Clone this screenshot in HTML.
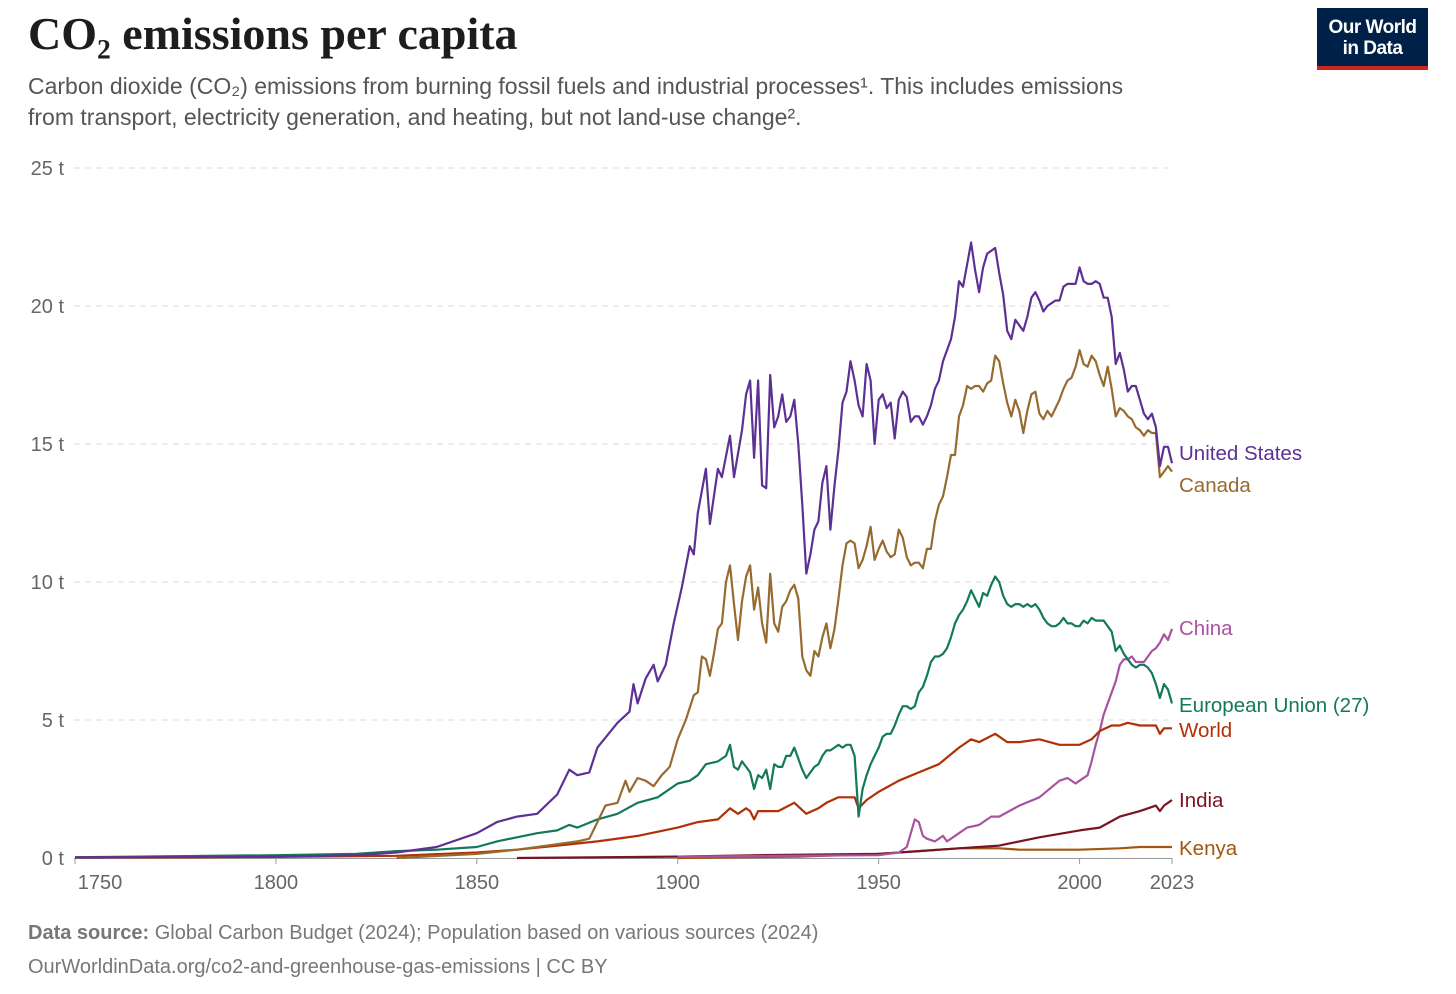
<!DOCTYPE html>
<html><head><meta charset="utf-8">
<style>
body{margin:0;background:#fff;width:1456px;height:994px;overflow:hidden;font-family:"Liberation Sans",sans-serif}
.title{position:absolute;left:28px;top:7px;font-family:"Liberation Serif",serif;font-size:46px;font-weight:bold;color:#1d1d1d}
.sub{position:absolute;left:28px;top:71px;font-size:23px;line-height:31px;color:#555;width:1300px;white-space:nowrap}
.logo{position:absolute;left:1317px;top:8px;width:111px;height:62px;background:#002147;color:#fff;font-size:19px;line-height:21px;text-align:center;box-sizing:border-box;padding-top:9px;border-bottom:4px solid #ce261e;font-weight:bold;letter-spacing:-0.5px}
.foot{position:absolute;left:28px;font-size:20px;color:#777}
</style></head><body>
<div class="title">CO₂ emissions per capita</div>
<div class="sub">Carbon dioxide (CO₂) emissions from burning fossil fuels and industrial processes¹. This includes emissions<br>from transport, electricity generation, and heating, but not land-use change².</div>
<div class="logo">Our World<br>in Data</div>
<svg id="chart" width="1456" height="994" style="position:absolute;left:0;top:0"></svg>
<div class="foot" style="top:922px"><b>Data source:</b> Global Carbon Budget (2024); Population based on various sources (2024)</div>
<div class="foot" style="top:956px">OurWorldinData.org/co2-and-greenhouse-gas-emissions | CC BY</div>
<script>
const yTicks=[0,5,10,15,20,25];
const xTicks=[1750,1800,1850,1900,1950,2000,2023];
const usYears=[1750,1800,1820,1830,1840,1850,1855,1860,1865,1870,1873,1875,1878,1880,1885,1888,1889,1890,1892,1894,1895,1897,1899,1901,1903,1904,1905,1907,1908,1910,1911,1913,1914,1916,1917,1918,1919,1920,1921,1922,1923,1924,1925,1926,1927,1928,1929,1930,1931,1932,1933,1934,1935,1936,1937,1938,1939,1940,1941,1942,1943,1944,1945,1946,1947,1948,1949,1950,1951,1952,1953,1954,1955,1956,1957,1958,1959,1960,1961,1962,1963,1964,1965,1966,1967,1968,1969,1970,1971,1972,1973,1974,1975,1976,1977,1978,1979,1980,1981,1982,1983,1984,1985,1986,1987,1988,1989,1990,1991,1992,1993,1994,1995,1996,1997,1998,1999,2000,2001,2002,2003,2004,2005,2006,2007,2008,2009,2010,2011,2012,2013,2014,2015,2016,2017,2018,2019,2020,2021,2022,2023];
const usVals=[0.02,0.05,0.1,0.2,0.4,0.9,1.3,1.5,1.6,2.3,3.2,3.0,3.1,4.0,4.9,5.3,6.3,5.6,6.5,7.0,6.4,7.0,8.5,9.8,11.3,11.0,12.5,14.1,12.1,14.1,13.8,15.3,13.8,15.5,16.8,17.3,14.5,17.3,13.5,13.4,17.5,15.6,16.0,16.8,15.8,16.0,16.6,15.0,12.8,10.3,11.0,11.9,12.2,13.6,14.2,11.9,13.5,14.8,16.5,16.9,18.0,17.3,16.4,16.0,17.9,17.3,15.0,16.6,16.8,16.3,16.5,15.2,16.6,16.9,16.7,15.8,16.0,16.0,15.7,16.0,16.4,17.0,17.3,18.0,18.4,18.8,19.6,20.9,20.7,21.5,22.3,21.3,20.5,21.4,21.9,22.0,22.1,21.2,20.4,19.1,18.8,19.5,19.3,19.1,19.6,20.3,20.5,20.2,19.8,20.0,20.1,20.2,20.2,20.7,20.8,20.8,20.8,21.4,20.9,20.8,20.8,20.9,20.8,20.3,20.3,19.6,17.9,18.3,17.7,16.9,17.1,17.1,16.6,16.1,15.9,16.1,15.6,14.2,14.9,14.9,14.3];
const caYears=[1830,1850,1860,1870,1875,1878,1880,1882,1885,1887,1888,1890,1892,1894,1896,1898,1900,1902,1904,1905,1906,1907,1908,1909,1910,1911,1912,1913,1914,1915,1916,1917,1918,1919,1920,1921,1922,1923,1924,1925,1926,1927,1928,1929,1930,1931,1932,1933,1934,1935,1936,1937,1938,1939,1940,1941,1942,1943,1944,1945,1946,1947,1948,1949,1950,1951,1952,1953,1954,1955,1956,1957,1958,1959,1960,1961,1962,1963,1964,1965,1966,1967,1968,1969,1970,1971,1972,1973,1974,1975,1976,1977,1978,1979,1980,1981,1982,1983,1984,1985,1986,1987,1988,1989,1990,1991,1992,1993,1994,1995,1996,1997,1998,1999,2000,2001,2002,2003,2004,2005,2006,2007,2008,2009,2010,2011,2012,2013,2014,2015,2016,2017,2018,2019,2020,2021,2022,2023];
const caVals=[0.0,0.15,0.3,0.5,0.6,0.7,1.3,1.9,2.0,2.8,2.4,2.9,2.8,2.6,3.0,3.3,4.3,5.0,5.9,6.0,7.3,7.2,6.6,7.4,8.3,8.5,10.0,10.6,9.2,7.9,9.3,10.2,10.6,9.0,9.8,8.5,7.8,10.3,8.5,8.2,9.1,9.3,9.7,9.9,9.4,7.3,6.8,6.6,7.5,7.3,8.0,8.5,7.6,8.3,9.4,10.6,11.4,11.5,11.4,10.5,10.8,11.3,12.0,10.8,11.2,11.5,11.1,10.9,11.0,11.9,11.6,10.9,10.6,10.7,10.7,10.5,11.2,11.2,12.2,12.8,13.1,13.8,14.6,14.6,16.0,16.4,17.1,17.0,17.1,17.1,16.9,17.2,17.3,18.2,18.0,17.2,16.5,16.0,16.6,16.2,15.4,16.2,16.8,16.9,16.1,15.9,16.2,16.0,16.3,16.6,17.0,17.3,17.4,17.8,18.4,17.9,17.8,18.2,18.0,17.5,17.1,17.8,17.0,16.0,16.3,16.2,16.0,15.9,15.6,15.5,15.3,15.5,15.4,15.4,13.8,14.0,14.2,14.0];
const euYears=[1750,1800,1820,1830,1840,1850,1855,1860,1865,1870,1873,1875,1880,1885,1890,1895,1900,1903,1905,1907,1910,1912,1913,1914,1915,1916,1917,1918,1919,1920,1921,1922,1923,1924,1925,1926,1927,1928,1929,1930,1931,1932,1933,1934,1935,1936,1937,1938,1939,1940,1941,1942,1943,1944,1945,1946,1947,1948,1949,1950,1951,1952,1953,1954,1955,1956,1957,1958,1959,1960,1961,1962,1963,1964,1965,1966,1967,1968,1969,1970,1971,1972,1973,1974,1975,1976,1977,1978,1979,1980,1981,1982,1983,1984,1985,1986,1987,1988,1989,1990,1991,1992,1993,1994,1995,1996,1997,1998,1999,2000,2001,2002,2003,2004,2005,2006,2007,2008,2009,2010,2011,2012,2013,2014,2015,2016,2017,2018,2019,2020,2021,2022,2023];
const euVals=[0.03,0.1,0.15,0.25,0.3,0.4,0.6,0.75,0.9,1.0,1.2,1.1,1.4,1.6,2.0,2.2,2.7,2.8,3.0,3.4,3.5,3.7,4.1,3.3,3.2,3.5,3.3,3.1,2.5,3.0,2.9,3.2,2.5,3.4,3.3,3.3,3.7,3.7,4.0,3.6,3.2,2.9,3.1,3.3,3.4,3.7,3.9,3.9,4.0,4.1,4.0,4.1,4.1,3.7,1.5,2.5,3.0,3.4,3.7,4.0,4.4,4.5,4.5,4.8,5.2,5.5,5.5,5.4,5.5,6.0,6.2,6.6,7.1,7.3,7.3,7.4,7.6,8.0,8.5,8.8,9.0,9.3,9.7,9.4,9.1,9.6,9.5,9.9,10.2,10.0,9.5,9.2,9.1,9.2,9.2,9.1,9.2,9.1,9.2,9.0,8.7,8.5,8.4,8.4,8.5,8.7,8.5,8.5,8.4,8.4,8.6,8.5,8.7,8.6,8.6,8.6,8.4,8.2,7.5,7.7,7.4,7.2,7.0,6.9,7.0,7.0,6.9,6.7,6.3,5.8,6.3,6.1,5.6];
const cnYears=[1900,1950,1955,1957,1958,1959,1960,1961,1962,1964,1966,1967,1968,1970,1972,1975,1978,1980,1985,1990,1995,1997,1999,2000,2002,2003,2004,2005,2006,2007,2008,2009,2010,2011,2012,2013,2014,2015,2016,2017,2018,2019,2020,2021,2022,2023];
const cnVals=[0.05,0.1,0.2,0.4,0.9,1.4,1.3,0.8,0.7,0.6,0.8,0.6,0.7,0.9,1.1,1.2,1.5,1.5,1.9,2.2,2.8,2.9,2.7,2.8,3.0,3.5,4.1,4.6,5.2,5.6,6.0,6.4,7.0,7.2,7.2,7.3,7.1,7.1,7.1,7.3,7.5,7.6,7.8,8.1,7.9,8.3];
const wdYears=[1750,1800,1830,1850,1860,1870,1880,1890,1900,1905,1910,1913,1915,1917,1918,1919,1920,1925,1929,1932,1935,1937,1940,1944,1945,1947,1950,1955,1960,1965,1970,1973,1975,1979,1982,1985,1990,1995,2000,2003,2005,2008,2010,2012,2015,2019,2020,2021,2022,2023];
const wdVals=[0.01,0.04,0.08,0.2,0.3,0.45,0.6,0.8,1.1,1.3,1.4,1.8,1.6,1.8,1.7,1.4,1.7,1.7,2.0,1.6,1.8,2.0,2.2,2.2,1.8,2.1,2.4,2.8,3.1,3.4,4.0,4.3,4.2,4.5,4.2,4.2,4.3,4.1,4.1,4.3,4.6,4.8,4.8,4.9,4.8,4.8,4.5,4.7,4.7,4.7];
const inYears=[1860,1900,1920,1950,1960,1970,1980,1990,2000,2005,2010,2015,2019,2020,2021,2022,2023];
const inVals=[0.0,0.05,0.1,0.15,0.25,0.35,0.45,0.75,1.0,1.1,1.5,1.7,1.9,1.7,1.9,2.0,2.1];
const keYears=[1900,1930,1950,1960,1970,1980,1985,1990,2000,2010,2015,2020,2023];
const keVals=[0.0,0.05,0.15,0.25,0.35,0.35,0.3,0.3,0.3,0.35,0.4,0.4,0.4];
const series=[
 {name:"Kenya",y:keYears,v:keVals,c:"#a2560f",ly:848},
 {name:"India",y:inYears,v:inVals,c:"#7a1423",ly:800},
 {name:"China",y:cnYears,v:cnVals,c:"#a9539e",ly:628},
 {name:"World",y:wdYears,v:wdVals,c:"#b22f07",ly:730},
 {name:"European Union (27)",y:euYears,v:euVals,c:"#12795a",ly:705},
 {name:"Canada",y:caYears,v:caVals,c:"#976b2f",ly:485},
 {name:"United States",y:usYears,v:usVals,c:"#5d3193",ly:453}
];
const X=yr=>75+(yr-1750)*(1172-75)/(2023-1750);
const Y=v=>858-v*(858-168)/25;
const svg=document.getElementById('chart');const NS="http://www.w3.org/2000/svg";
function mk(t,a){const e=document.createElementNS(NS,t);for(const k in a)e.setAttribute(k,a[k]);svg.appendChild(e);return e;}
yTicks.forEach(t=>{
 if(t>0){const g=mk('line',{x1:74,x2:1171,y1:Y(t),y2:Y(t),stroke:'#ddd','stroke-dasharray':'6,5'});
 
 }
 const tx=mk('text',{x:64,y:Y(t)+7,'text-anchor':'end','font-size':20,fill:'#666','font-family':'Liberation Sans'});tx.textContent=t+' t';
 
 
});
const ax=mk('line',{x1:74,x2:1172,y1:858.5,y2:858.5,stroke:'#999'});


xTicks.forEach(t=>{
 const tk=mk('line',{x1:X(t),x2:X(t),y1:858,y2:864,stroke:'#999'});
 
 
 const tx=mk('text',{x:X(t)+(t==1750?25:0),y:889,'text-anchor':'middle','font-size':20,fill:'#666','font-family':'Liberation Sans'});tx.textContent=t;
 
 
});
series.forEach(s=>{
 const d=s.y.map((yr,i)=>(i?'L':'M')+X(yr).toFixed(1)+','+Y(s.v[i]).toFixed(1)).join('');
 const p=mk('path',{d:d,fill:'none',stroke:s.c,'stroke-width':2.2,'stroke-linejoin':'round'});
 
 
 const l=mk('text',{x:1179,y:s.ly+7,'font-size':20.5,fill:s.c,'font-family':'Liberation Sans'});l.textContent=s.name;
 
 
});
</script>
</body></html>
